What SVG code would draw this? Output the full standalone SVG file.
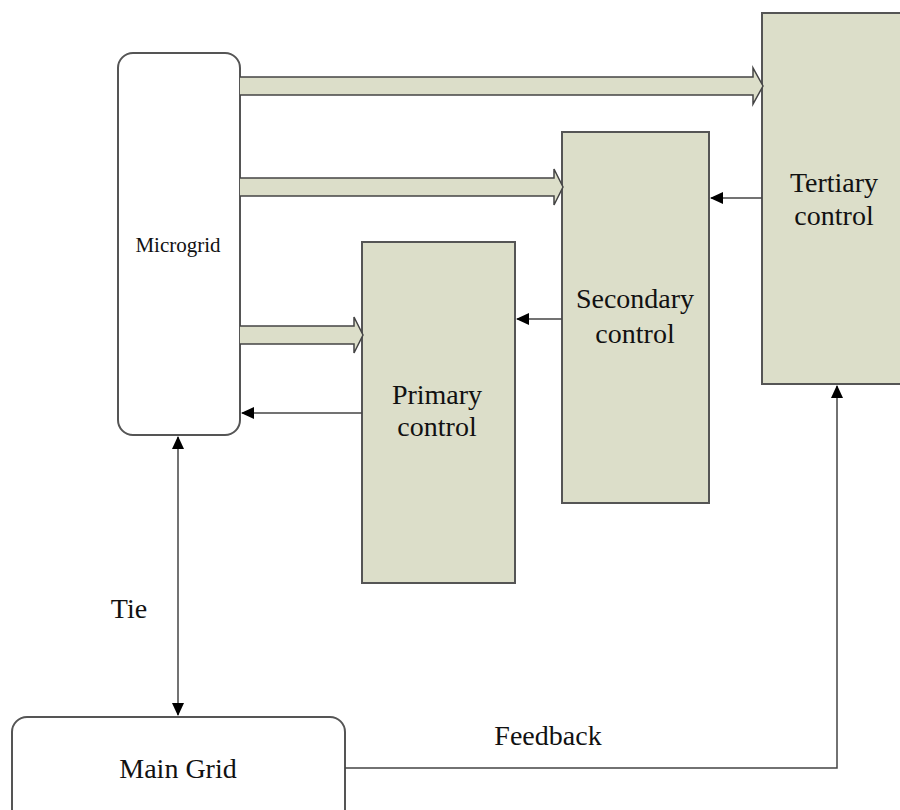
<svg xmlns="http://www.w3.org/2000/svg" width="900" height="810" viewBox="0 0 900 810">
<style>
.box{fill:#dcdec9;stroke:#555;stroke-width:2}
.wbox{fill:#fff;stroke:#555;stroke-width:2}
.fat{fill:#dcdec9;stroke:#444;stroke-width:1.5;stroke-linejoin:miter}
.ln{fill:none;stroke:#444;stroke-width:1.5}
text{font-family:"Liberation Serif","Times New Roman",serif;fill:#111;font-size:28px;text-anchor:middle}
</style>
<defs>
<marker id="ah" markerWidth="13" markerHeight="12" refX="12" refY="6" orient="auto" markerUnits="userSpaceOnUse">
<path d="M0,0 L13,6 L0,12 Z" fill="#000"/>
</marker>
<marker id="ahs" markerWidth="13" markerHeight="12" refX="12" refY="6" orient="auto-start-reverse" markerUnits="userSpaceOnUse">
<path d="M0,0 L13,6 L0,12 Z" fill="#000"/>
</marker>
</defs>
<rect width="900" height="810" fill="#fff"/>
<g id="microgrid">
<rect class="wbox" x="118" y="53" width="122" height="382" rx="15"/>
<text x="178" y="252" style="font-size:21px">Microgrid</text>
</g>
<g id="tertiary">
<rect class="box" x="762" y="13" width="150" height="371"/>
<text x="834" y="192">Tertiary</text>
<text x="834" y="225">control</text>
</g>
<g id="secondary">
<rect class="box" x="562" y="132" width="147" height="371"/>
<text x="635" y="308">Secondary</text>
<text x="635" y="343">control</text>
</g>
<g id="primary">
<rect class="box" x="362" y="242" width="153" height="341"/>
<text x="437" y="404">Primary</text>
<text x="437" y="436">control</text>
</g>
<g id="maingrid">
<rect class="wbox" x="12" y="717" width="333" height="110" rx="15"/>
<text x="178" y="778">Main Grid</text>
</g>
<g id="connectors">
<path class="fat" d="M240,77 H753 V68 L763,86 L753,104 V95 H240"/>
<path class="fat" d="M240,178 H554 V169 L563,187 L554,205 V196 H240"/>
<path class="fat" d="M240,326 H354 V317 L363,335 L354,353 V344 H240"/>
<line class="ln" x1="762" y1="198" x2="711" y2="198" marker-end="url(#ah)"/>
<line class="ln" x1="562" y1="319" x2="517" y2="319" marker-end="url(#ah)"/>
<line class="ln" x1="362" y1="413" x2="242" y2="413" marker-end="url(#ah)"/>
<line class="ln" x1="178" y1="437" x2="178" y2="715" marker-start="url(#ahs)" marker-end="url(#ah)"/>
<polyline class="ln" points="345,768 837,768 837,386" marker-end="url(#ah)"/>
</g>
<text x="129" y="618">Tie</text>
<text x="548" y="745">Feedback</text>
</svg>
